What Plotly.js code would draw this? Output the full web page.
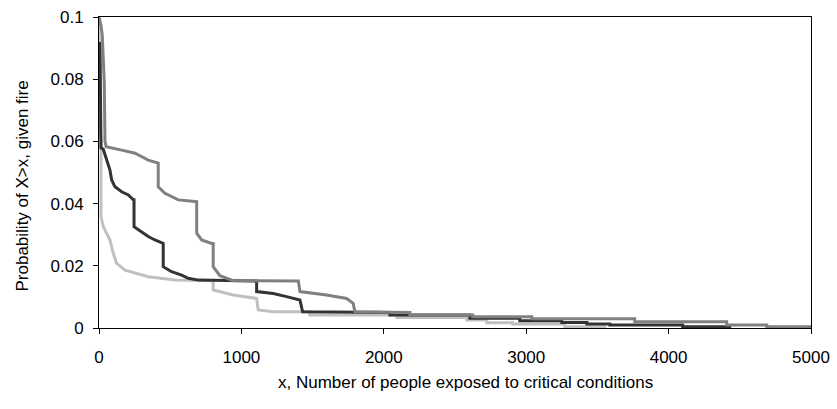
<!DOCTYPE html>
<html>
<head>
<meta charset="utf-8">
<script src="https://cdn.plot.ly/plotly-3.0.1.min.js"></script>
<style>html,body{margin:0;padding:0;background:#fff;}#chart{width:837px;height:409px;}</style>
</head>
<body>
<div id="chart"></div>
<script>
// Series: medium gray
const mediumX = [0, 15, 23, 37, 42, 50, 159, 253, 346, 405, 416, 416, 463, 557, 674, 686, 686, 721, 791, 802, 802, 849, 943, 1400, 1411, 1598, 1739, 1785, 1797, 2183, 2183, 2625, 2625, 3039, 3039, 3762, 3762, 4408, 4408, 4689, 4689, 5000];
const mediumY = [0.1, 0.097, 0.094, 0.079, 0.060, 0.0583, 0.0572, 0.0562, 0.054, 0.053, 0.053, 0.0454, 0.0433, 0.0412, 0.0406, 0.0406, 0.0305, 0.0283, 0.0272, 0.0272, 0.0197, 0.0168, 0.0152, 0.0151, 0.0117, 0.0106, 0.0095, 0.0079, 0.0052, 0.0050, 0.0042, 0.0042, 0.0036, 0.0036, 0.0030, 0.0030, 0.0020, 0.0020, 0.0010, 0.0010, 0.0004, 0.0004];
// Series: dark
const darkX = [7, 14, 30, 42, 54, 63, 77, 89, 112, 159, 206, 241, 246, 246, 300, 346, 393, 451, 451, 510, 580, 627, 700, 1107, 1107, 1224, 1317, 1411, 1430, 2043, 2043, 2604, 2604, 2955, 2955, 3250, 3250, 3426, 3426, 3587, 3587, 4099, 4099, 4429, 4429];
const darkY = [0.092, 0.058, 0.0575, 0.0556, 0.054, 0.053, 0.0508, 0.0476, 0.0454, 0.0438, 0.0428, 0.0412, 0.0412, 0.0326, 0.031, 0.0294, 0.0283, 0.0272, 0.0197, 0.0181, 0.017, 0.016, 0.0154, 0.0151, 0.0117, 0.0111, 0.0101, 0.009, 0.0052, 0.0050, 0.0042, 0.0042, 0.0031, 0.0031, 0.0023, 0.0023, 0.0018, 0.0018, 0.0013, 0.0013, 0.0010, 0.0010, 0.0004, 0.0004, 0];
// Series: light gray
const lightX = [0, 7, 14, 14, 30, 54, 77, 100, 124, 183, 253, 346, 534, 802, 802, 849, 943, 1107, 1118, 1224, 1481, 1481, 2092, 2092, 2583, 2583, 2724, 2724, 2906, 2906, 3271, 3271, 3552, 3552];
const lightY = [0.1, 0.065, 0.0605, 0.0358, 0.0326, 0.0305, 0.0283, 0.024, 0.0208, 0.0186, 0.0176, 0.0165, 0.0154, 0.0152, 0.0122, 0.0117, 0.0106, 0.0095, 0.0058, 0.0052, 0.0052, 0.0042, 0.0042, 0.0034, 0.0034, 0.0026, 0.0026, 0.0017, 0.0017, 0.0013, 0.0013, 0.0004, 0.0004, 0];

const xTicks = [0, 1000, 2000, 3000, 4000, 5000];
const yTicks = [0, 0.02, 0.04, 0.06, 0.08, 0.1];
const yTickLabels = ["0", "0.02", "0.04", "0.06", "0.08", "0.1"];
const xTitle = "x, Number of people exposed to critical conditions";
const yTitle = "Probability of X>x, given fire";

const font = {family: "Liberation Sans, Arial, sans-serif", size: 17, color: "#000"};

const traces = [
  {x: lightX, y: lightY, mode: "lines", line: {color: "#c0c0c0", width: 3}, hoverinfo: "skip"},
  {x: darkX, y: darkY, mode: "lines", line: {color: "#333333", width: 3}, hoverinfo: "skip"},
  {x: mediumX, y: mediumY, mode: "lines", line: {color: "#808080", width: 3}, hoverinfo: "skip"}
];

const layout = {
  width: 837, height: 409,
  margin: {l: 99, r: 26, t: 17, b: 81, pad: 0},
  paper_bgcolor: "#fff", plot_bgcolor: "#fff",
  showlegend: false,
  font: font,
  xaxis: {
    range: [0, 5000], tickvals: xTicks, ticktext: xTicks.map(String),
    showgrid: false, zeroline: false,
    showline: true, linecolor: "#000", linewidth: 1, mirror: true,
    ticks: "outside", ticklen: 5, tickcolor: "#000", tickwidth: 1,
    ticklabelstandoff: 9,
    tickfont: font
  },
  yaxis: {
    range: [0, 0.1], tickvals: yTicks, ticktext: yTickLabels,
    showgrid: false, zeroline: false,
    showline: true, linecolor: "#000", linewidth: 1, mirror: true,
    ticks: "outside", ticklen: 5, tickcolor: "#000", tickwidth: 1,
    ticklabelstandoff: 6,
    tickfont: font
  },
  annotations: [
    {text: xTitle, xref: "paper", yref: "paper", x: (465 - 99) / 712, y: (328 - 382) / 311,
     xanchor: "center", yanchor: "middle", showarrow: false, font: font},
    {text: yTitle, xref: "paper", yref: "paper", x: (21.5 - 99) / 712, y: (328 - 186) / 311,
     xanchor: "center", yanchor: "middle", showarrow: false, textangle: -90, font: font}
  ]
};

Plotly.newPlot("chart", traces, layout, {staticPlot: true, displayModeBar: false});
</script>
</body>
</html>
